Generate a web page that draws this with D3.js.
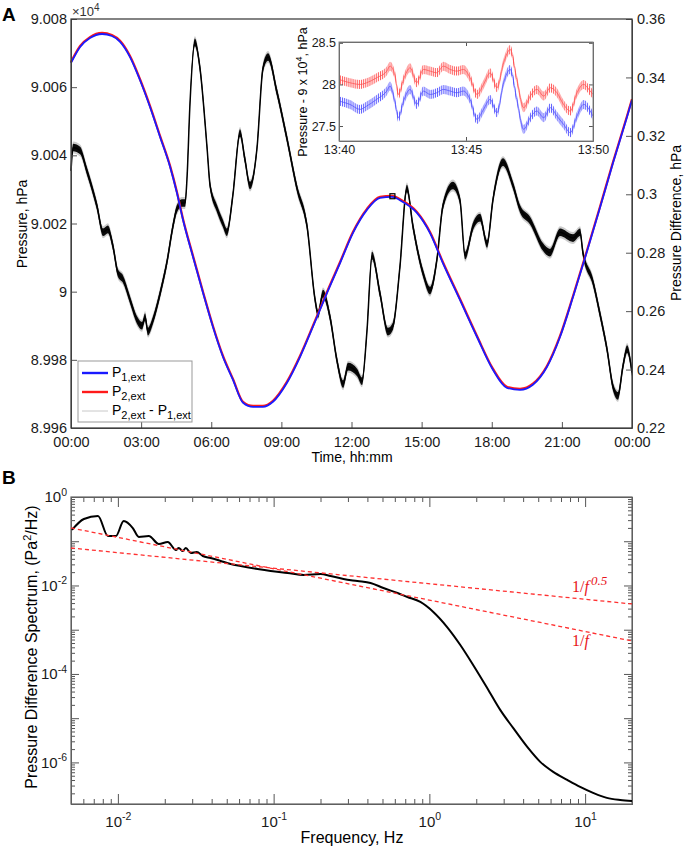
<!DOCTYPE html>
<html lang="en">
<head>
<meta charset="UTF-8" />
<title>Pressure and pressure difference</title>
<style>
  body { margin: 0; background: #fff; }
  svg { display: block; font-family: "Liberation Sans", Arial, sans-serif; }
  .axis path, .axis line { stroke: #555; }
  .axis text { fill: #1a1a1a; font-size: 14.5px; }
  .inset .axis text { font-size: 12.5px; }
  .logax text { font-size: 15px; }
</style>
</head>
<body>
<svg id="chart" width="685" height="850"></svg>
<script src="https://d3js.org/d3.v7.min.js"></script>
<script>
// ---- data ----
// panel A: external pressures (hPa) against time of day (hours)
const pTime = [0, 0.39, 0.81, 1.33, 1.75, 2.10, 2.52, 2.95, 3.38, 3.81, 4.24, 4.53, 4.79, 5.22, 5.65, 6.07, 6.50, 6.93, 7.36, 7.79, 8.21, 8.64, 9.24, 9.80, 10.35, 10.95, 11.51, 12.06, 12.66, 13.22, 13.73, 14.20, 14.80, 15.36, 15.91, 16.64, 17.37, 18.05, 18.65, 19.21, 19.76, 20.36, 20.92, 21.48, 22.07, 22.63, 23.19, 23.79, 24.0];
const p1 = [90067.1, 90071.8, 90074.4, 90075.6, 90075.0, 90073.3, 90068.9, 90062.1, 90054.2, 90045.4, 90036.6, 90029.0, 90021.1, 90010.2, 89999.6, 89989.7, 89980.9, 89974.1, 89967.4, 89966.2, 89966.2, 89967.7, 89973.3, 89980.9, 89989.7, 89999.6, 90008.4, 90017.2, 90024.0, 90027.5, 90027.8, 90026.3, 90023.1, 90017.2, 90008.4, 89997.6, 89986.7, 89977.1, 89971.8, 89971.2, 89972.7, 89977.9, 89986.7, 89998.5, 90011.7, 90024.6, 90037.8, 90051.3, 90056.2];
const p2 = [90067.4, 90072.1, 90074.7, 90075.9, 90075.3, 90073.6, 90069.2, 90062.4, 90054.5, 90045.7, 90036.9, 90029.3, 90021.4, 90010.5, 89999.9, 89990.0, 89981.2, 89974.4, 89967.7, 89966.5, 89966.5, 89968.0, 89973.6, 89981.2, 89990.0, 89999.9, 90008.7, 90017.5, 90024.3, 90027.8, 90028.1, 90026.6, 90023.4, 90017.5, 90008.7, 89997.9, 89987.0, 89977.4, 89972.1, 89971.5, 89973.0, 89978.2, 89987.0, 89998.8, 90012.0, 90024.9, 90038.1, 90051.6, 90056.5];

// panel A: pressure difference P2 - P1 (hPa, right axis)
const diffTime = [0, 0.09, 0.39, 0.68, 1.11, 1.37, 1.58, 1.80, 2.01, 2.22, 2.52, 2.82, 3.04, 3.17, 3.29, 3.51, 3.81, 4.11, 4.36, 4.53, 4.75, 4.88, 4.96, 5.09, 5.30, 5.52, 5.82, 5.95, 6.25, 6.50, 6.67, 6.93, 7.23, 7.44, 7.66, 7.96, 8.21, 8.43, 8.81, 9.24, 9.67, 10.10, 10.44, 10.57, 10.78, 11.08, 11.38, 11.64, 11.85, 12.24, 12.45, 12.66, 12.88, 13.22, 13.56, 13.78, 14.07, 14.37, 14.63, 15.06, 15.36, 15.66, 15.91, 16.34, 16.64, 16.86, 17.20, 17.50, 17.80, 18.05, 18.48, 18.91, 19.21, 19.64, 20.19, 20.49, 20.92, 21.48, 21.78, 21.90, 22.33, 22.63, 22.93, 23.19, 23.40, 23.61, 23.79, 24.0];
const diffValue = [0.308, 0.316, 0.315, 0.308, 0.296, 0.287, 0.288, 0.282, 0.273, 0.271, 0.264, 0.257, 0.255, 0.258, 0.253, 0.257, 0.266, 0.277, 0.289, 0.295, 0.297, 0.297, 0.305, 0.331, 0.352, 0.343, 0.316, 0.303, 0.295, 0.290, 0.287, 0.300, 0.321, 0.312, 0.303, 0.316, 0.343, 0.347, 0.335, 0.319, 0.302, 0.289, 0.264, 0.259, 0.266, 0.258, 0.243, 0.235, 0.241, 0.239, 0.236, 0.253, 0.279, 0.266, 0.253, 0.255, 0.275, 0.302, 0.289, 0.273, 0.267, 0.278, 0.296, 0.303, 0.298, 0.279, 0.289, 0.292, 0.283, 0.298, 0.311, 0.303, 0.295, 0.291, 0.282, 0.280, 0.287, 0.285, 0.287, 0.280, 0.270, 0.259, 0.247, 0.234, 0.231, 0.241, 0.247, 0.239];

// inset: minutes after 13:40, pressure - 9e4 (hPa)
const insetMin = [0, 0.43, 0.83, 1.09, 1.48, 1.88, 2.01, 2.21, 2.34, 2.54, 2.80, 3.06, 3.32, 3.59, 3.85, 4.11, 4.38, 4.64, 4.90, 5.16, 5.43, 5.69, 5.95, 6.22, 6.48, 6.74, 7.00, 7.27, 7.53, 7.79, 8.06, 8.32, 8.58, 8.84, 9.11, 9.37, 9.63, 9.89, 10.0];
const insetP2 = [28.06, 28.02, 28.00, 28.02, 28.08, 28.16, 28.22, 28.10, 27.88, 28.06, 28.20, 28.02, 28.18, 28.16, 28.14, 28.22, 28.18, 28.16, 28.18, 28.08, 27.88, 28.00, 28.14, 27.96, 28.26, 28.42, 28.06, 27.72, 27.86, 27.94, 27.86, 27.96, 27.90, 27.76, 27.68, 27.90, 28.00, 27.92, 27.88];
const insetP1 = [27.80, 27.76, 27.70, 27.74, 27.82, 27.92, 27.98, 27.78, 27.60, 27.80, 27.94, 27.76, 27.92, 27.88, 27.90, 27.94, 27.92, 27.90, 27.92, 27.82, 27.58, 27.70, 27.82, 27.66, 28.02, 28.18, 27.82, 27.46, 27.60, 27.68, 27.60, 27.72, 27.62, 27.52, 27.42, 27.62, 27.76, 27.68, 27.62];
const insetMarker = [13.75, 90028]; // where the inset sits on the pressure curve

// panel B: pressure difference spectrum
const specFreq = [0.00507, 0.00605, 0.00745, 0.00863, 0.00971, 0.0109, 0.01247, 0.01363, 0.0158, 0.01833, 0.0209, 0.0236, 0.0246, 0.0261, 0.0273, 0.0294, 0.0321, 0.0351, 0.0394, 0.0457, 0.0530, 0.0614, 0.0789, 0.0957, 0.123, 0.156, 0.200, 0.232, 0.281, 0.345, 0.419, 0.507, 0.624, 0.723, 0.875, 1.06, 1.30, 1.58, 1.91, 2.35, 2.85, 3.45, 4.25, 5.15, 6.24, 7.67, 9.29, 11.25, 13.8, 16.8, 20.0];
const specPsd = [0.180, 0.318, 0.372, 0.131, 0.131, 0.287, 0.199, 0.125, 0.131, 0.0867, 0.0962, 0.0634, 0.0704, 0.0602, 0.0704, 0.0543, 0.0572, 0.0464, 0.0418, 0.0358, 0.0306, 0.0276, 0.0236, 0.0213, 0.0192, 0.0173, 0.0182, 0.0164, 0.0140, 0.0126, 0.0114, 0.00877, 0.00677, 0.00550, 0.00424, 0.00252, 0.00115, 4.52e-4, 1.60e-4, 4.83e-5, 1.54e-5, 6.02e-6, 2.24e-6, 1.03e-6, 6.10e-7, 4.02e-7, 2.79e-7, 2.05e-7, 1.58e-7, 1.42e-7, 1.35e-7];
const fitFreq = [0.005, 20];
const fitHalf = [0.0704, 0.00382];  // 1/f^0.5 guide
const fitOne = [0.200, 0.000557];   // 1/f guide

// ticks
const hourTicks = [0, 3, 6, 9, 12, 15, 18, 21, 24];
const hourLabels = ["00:00", "03:00", "06:00", "09:00", "12:00", "15:00", "18:00", "21:00", "00:00"];
const pTicks = [89960, 89980, 90000, 90020, 90040, 90060, 90080];
const dTicks = [0.22, 0.24, 0.26, 0.28, 0.30, 0.32, 0.34, 0.36];
const insetYTicks = [27.5, 28, 28.5];
const insetXTicks = [0, 5, 10];
const insetXLabels = ["13:40", "13:45", "13:50"];
const freqMajor = [0.01, 0.1, 1, 10];
const psdLabelled = [1e-6, 1e-4, 1e-2, 1];

const svg = d3.select("#chart");
const defs = svg.append("defs");

// ================= panel A =================
const A = {l: 71, r: 632, t: 19, b: 428};
const x = d3.scaleLinear().domain([0, 24]).range([A.l, A.r]);
const yP = d3.scaleLinear().domain([89960, 90080]).range([A.b, A.t]);
const yD = d3.scaleLinear().domain([0.22, 0.36]).range([A.b, A.t]);
const gA = svg.append("g");

// noisy difference trace: fuzzy band + core
const diff = diffTime.map((t, i) => [t, diffValue[i]]);
const band = (xs, ys, w) => d3.area()
    .x(d => xs(d[0]))
    .y0(d => ys(d[1]) - w)
    .y1(d => ys(d[1]) + w)
    .curve(d3.curveMonotoneX);
gA.append("path").datum(diff).attr("d", band(x, yD, 6)).attr("fill", "#000").attr("opacity", 0.2);
gA.append("path").datum(diff).attr("d", band(x, yD, 3.8)).attr("fill", "#000").attr("opacity", 0.95);
gA.append("path").datum(diff)
    .attr("d", d3.line().x(d => x(d[0])).y(d => yD(d[1])).curve(d3.curveMonotoneX))
    .attr("fill", "none").attr("stroke", "#000").attr("stroke-width", 1.5);

// pressure curves
const pLine = d3.line().x(d => x(d[0])).y(d => yP(d[1])).curve(d3.curveMonotoneX);
gA.append("path").datum(pTime.map((t, i) => [t, p2[i]]))
    .attr("d", pLine).attr("fill", "none").attr("stroke", "#ff1a1a").attr("stroke-width", 2.2);
gA.append("path").datum(pTime.map((t, i) => [t, p1[i]]))
    .attr("d", pLine).attr("fill", "none").attr("stroke", "#1a1aff").attr("stroke-width", 1.8);

gA.append("rect")
    .attr("x", x(insetMarker[0]) - 2.5).attr("y", yP(insetMarker[1]) - 2.5)
    .attr("width", 5).attr("height", 5)
    .attr("fill", "none").attr("stroke", "#000").attr("stroke-width", 1.2);

// axes
gA.append("g").attr("class", "axis").attr("transform", `translate(${A.l},0)`)
    .call(d3.axisLeft(yP).tickValues(pTicks).tickSizeInner(-6).tickSizeOuter(0).tickPadding(4)
        .tickFormat(v => String(+(v / 1e4).toFixed(3))));
gA.append("g").attr("class", "axis").attr("transform", `translate(${A.r},0)`)
    .call(d3.axisRight(yD).tickValues(dTicks).tickSizeInner(-6).tickSizeOuter(0).tickPadding(5)
        .tickFormat(v => String(+v.toFixed(2))));
gA.append("g").attr("class", "axis").attr("transform", `translate(0,${A.b})`)
    .call(d3.axisBottom(x).tickValues(hourTicks).tickSizeInner(-6).tickSizeOuter(0).tickPadding(9)
        .tickFormat((d, i) => hourLabels[i]));
gA.selectAll(".axis line").attr("stroke", "#888");
gA.append("rect").attr("x", A.l).attr("y", A.t).attr("width", A.r - A.l).attr("height", A.b - A.t)
    .attr("fill", "none").attr("stroke", "#333").attr("stroke-width", 1.2);

// exponent note
const ex = gA.append("text").attr("x", A.l + 1).attr("y", 16).attr("font-size", 13).attr("fill", "#333");
ex.append("tspan").text("\u00d710");
ex.append("tspan").attr("dy", -5).attr("font-size", 10).text("4");

// titles
gA.append("text").attr("transform", `translate(27,224) rotate(-90)`)
    .attr("text-anchor", "middle").attr("font-size", 14).text("Pressure, hPa");
gA.append("text").attr("transform", `translate(681,223) rotate(-90)`)
    .attr("text-anchor", "middle").attr("font-size", 14).text("Pressure Difference, hPa");
gA.append("text").attr("x", 352).attr("y", 462).attr("text-anchor", "middle")
    .attr("font-size", 14).text("Time, hh:mm");
svg.append("text").attr("x", 2).attr("y", 21).attr("font-size", 19).attr("font-weight", "bold").text("A");

// legend
const lg = gA.append("g").attr("transform", "translate(78,361)");
lg.append("rect").attr("width", 114).attr("height", 61).attr("fill", "#fff").attr("stroke", "#999");
const legendRows = [
    {color: "#1a1aff", width: 2.4, parts: [["P", "1,ext"]]},
    {color: "#ff1a1a", width: 2.4, parts: [["P", "2,ext"]]},
    {color: "#c8c8c8", width: 1, parts: [["P", "2,ext"], [" - P", "1,ext"]]}
];
legendRows.forEach((row, i) => {
    const cy = 12 + i * 19;
    lg.append("line").attr("x1", 4).attr("x2", 30).attr("y1", cy).attr("y2", cy)
        .attr("stroke", row.color).attr("stroke-width", row.width);
    const t = lg.append("text").attr("x", 34).attr("y", cy + 4).attr("font-size", 14);
    row.parts.forEach(([base, sub], k) => {
        t.append("tspan").attr("dy", k ? -4 : 0).text(base);
        t.append("tspan").attr("dy", 4).attr("font-size", 11).text(sub);
    });
});

// ---- inset ----
const I = {l: 339, r: 593, t: 42, b: 141};
const xI = d3.scaleLinear().domain([0, 10]).range([I.l, I.r]);
const yI = d3.scaleLinear().domain([27.32, 28.51]).range([I.b, I.t]);
const gI = svg.append("g").attr("class", "inset");
gI.append("rect").attr("x", I.l).attr("y", I.t).attr("width", I.r - I.l).attr("height", I.b - I.t).attr("fill", "#fff");
defs.append("clipPath").attr("id", "insetClip").append("rect")
    .attr("x", I.l).attr("y", I.t).attr("width", I.r - I.l).attr("height", I.b - I.t);
const gIc = gI.append("g").attr("clip-path", "url(#insetClip)");
const iLine = d3.line().x(d => xI(d[0])).y(d => yI(d[1])).curve(d3.curveMonotoneX);
[[insetP2, "#ff4d4d", "hatchR"], [insetP1, "#4d4dff", "hatchB"]].forEach(([vals, col, id]) => {
    // vertical hatching imitates the fast oscillation of the raw signal
    const pat = defs.append("pattern").attr("id", id).attr("patternUnits", "userSpaceOnUse")
        .attr("width", 1.9).attr("height", 20);
    pat.append("rect").attr("width", 0.85).attr("height", 20).attr("fill", col);
    const pts = insetMin.map((m, i) => [m, vals[i]]);
    gIc.append("path").datum(pts).attr("d", band(xI, yI, 4.5)).attr("fill", `url(#${id})`);
    gIc.append("path").datum(pts).attr("d", iLine).attr("fill", "none")
        .attr("stroke", col).attr("stroke-width", 0.9).attr("opacity", 0.8);
});
gI.append("g").attr("class", "axis").attr("transform", `translate(${I.l},0)`)
    .call(d3.axisLeft(yI).tickValues(insetYTicks).tickSizeInner(-4).tickSizeOuter(0).tickPadding(3).tickFormat(d => String(d)));
gI.append("g").attr("class", "axis").attr("transform", `translate(${I.r},0)`)
    .call(d3.axisRight(yI).tickValues(insetYTicks).tickSizeInner(-4).tickSizeOuter(0).tickFormat(""));
gI.append("g").attr("class", "axis").attr("transform", `translate(0,${I.b})`)
    .call(d3.axisBottom(xI).tickValues(insetXTicks).tickSizeInner(-4).tickSizeOuter(0).tickPadding(4)
        .tickFormat((d, i) => insetXLabels[i]));
gI.append("g").attr("class", "axis").attr("transform", `translate(0,${I.t})`)
    .call(d3.axisTop(xI).tickValues(insetXTicks).tickSizeInner(-4).tickSizeOuter(0).tickFormat(""));
gI.selectAll(".axis line").attr("stroke", "#999");
gI.selectAll(".axis path").attr("stroke", "none");
gI.append("rect").attr("x", I.l).attr("y", I.t).attr("width", I.r - I.l).attr("height", I.b - I.t)
    .attr("fill", "none").attr("stroke", "#888");
const il = gI.append("text").attr("transform", `translate(307,92) rotate(-90)`)
    .attr("text-anchor", "middle").attr("font-size", 12.5);
il.append("tspan").text("Pressure - 9 x 10");
il.append("tspan").attr("dy", -5).attr("font-size", 9).text("4");
il.append("tspan").attr("dy", 5).text(", hPa");

// ================= panel B =================
const B = {l: 71, r: 632, t: 497, b: 804};
const xB = d3.scaleLog().domain([0.005, 20]).range([B.l, B.r]);
const yB = d3.scaleLog().domain([Math.pow(10, -6.94), 1]).range([B.b, B.t]);
const gB = svg.append("g");

function logTicks(lo, hi) {
    const out = [];
    for (let e = Math.floor(Math.log10(lo)); e <= Math.ceil(Math.log10(hi)); e++) {
        for (let m = 1; m <= 9; m++) {
            const v = m * Math.pow(10, e);
            if (v >= lo * 0.999 && v <= hi * 1.001) out.push(v);
        }
    }
    return out;
}
const isDecade = v => Math.abs(Math.log10(v) - Math.round(Math.log10(v))) < 1e-6;
const xMinor = logTicks(0.005, 20).filter(v => !isDecade(v));
const yAll = logTicks(Math.pow(10, -6.94), 1);
const yMinor = yAll.filter(v => !isDecade(v));
const yMajor = yAll.filter(isDecade);

function powLabels(g) {
    g.selectAll(".tick text").each(function (d) {
        const t = d3.select(this);
        t.text(null);
        t.append("tspan").text("10");
        t.append("tspan").attr("dy", "-0.6em").attr("font-size", "10.5px").text(Math.round(Math.log10(d)));
    });
}

// ticks on all four sides
const axB = [
    [d3.axisBottom(xB).tickValues(xMinor).tickSizeInner(-5), `translate(0,${B.b})`],
    [d3.axisTop(xB).tickValues(xMinor).tickSizeInner(-5), `translate(0,${B.t})`],
    [d3.axisTop(xB).tickValues(freqMajor).tickSizeInner(-10), `translate(0,${B.t})`],
    [d3.axisLeft(yB).tickValues(yMinor).tickSizeInner(-4), `translate(${B.l},0)`],
    [d3.axisRight(yB).tickValues(yMinor).tickSizeInner(-4), `translate(${B.r},0)`],
    [d3.axisLeft(yB).tickValues(yMajor).tickSizeInner(-8), `translate(${B.l},0)`],
    [d3.axisRight(yB).tickValues(yMajor).tickSizeInner(-8), `translate(${B.r},0)`]
];
axB.forEach(([ax, tr]) => {
    gB.append("g").attr("class", "axis").attr("transform", tr).call(ax.tickSizeOuter(0).tickFormat(""));
});
gB.append("g").attr("class", "axis logax").attr("transform", `translate(0,${B.b})`)
    .call(d3.axisBottom(xB).tickValues(freqMajor).tickSizeInner(-10).tickSizeOuter(0).tickPadding(12))
    .call(powLabels);
gB.append("g").attr("class", "axis logax").attr("transform", `translate(${B.l},0)`)
    .call(d3.axisLeft(yB).tickValues(psdLabelled).tickSizeInner(0).tickSizeOuter(0).tickPadding(4))
    .call(powLabels);
gB.selectAll(".axis line").attr("stroke", "#666");
gB.selectAll(".axis path").attr("stroke", "none");
gB.append("rect").attr("x", B.l).attr("y", B.t).attr("width", B.r - B.l).attr("height", B.b - B.t)
    .attr("fill", "none").attr("stroke", "#666").attr("stroke-width", 1.2);

// spectrum
gB.append("path").datum(specFreq.map((f, i) => [f, specPsd[i]]))
    .attr("d", d3.line().x(d => xB(d[0])).y(d => yB(d[1])).curve(d3.curveMonotoneX))
    .attr("fill", "none").attr("stroke", "#000").attr("stroke-width", 2);

// power-law guides
[fitHalf, fitOne].forEach(vals => {
    gB.append("path").datum(fitFreq.map((f, i) => [f, vals[i]]))
        .attr("d", d3.line().x(d => xB(d[0])).y(d => yB(d[1])))
        .attr("fill", "none").attr("stroke", "#ff3030").attr("stroke-width", 1.3)
        .attr("stroke-dasharray", "4 3");
});
const g1 = gB.append("text").attr("x", 572).attr("y", 592).attr("fill", "#e8141b")
    .attr("font-family", "'Liberation Serif', 'Times New Roman', serif").attr("font-size", 16);
g1.append("tspan").text("1/");
g1.append("tspan").attr("font-style", "italic").text("f");
g1.append("tspan").attr("dx", 2).attr("dy", -7).attr("font-style", "italic").attr("font-size", 13).text("0.5");
const g2 = gB.append("text").attr("x", 572).attr("y", 646).attr("fill", "#e8141b")
    .attr("font-family", "'Liberation Serif', 'Times New Roman', serif").attr("font-size", 16);
g2.append("tspan").text("1/");
g2.append("tspan").attr("font-style", "italic").text("f");

// titles
const yt = gB.append("text").attr("transform", "translate(37,647) rotate(-90)")
    .attr("text-anchor", "middle").attr("font-size", 16);
yt.append("tspan").text("Pressure Difference Spectrum, (Pa");
yt.append("tspan").attr("dy", -6).attr("font-size", 11).text("2");
yt.append("tspan").attr("dy", 6).text("/Hz)");
gB.append("text").attr("x", 352).attr("y", 843).attr("text-anchor", "middle")
    .attr("font-size", 16).text("Frequency, Hz");
svg.append("text").attr("x", 2).attr("y", 484).attr("font-size", 19).attr("font-weight", "bold").text("B");
</script>
</body>
</html>
